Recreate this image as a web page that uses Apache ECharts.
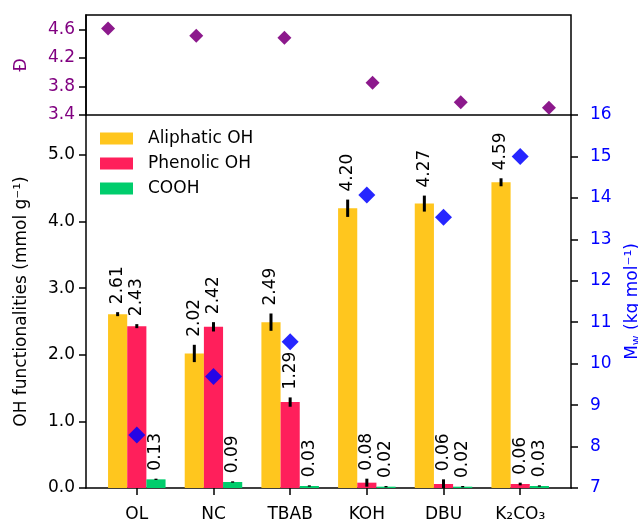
<!DOCTYPE html>
<html>
<head>
<meta charset="utf-8">
<script src="https://cdn.jsdelivr.net/npm/echarts@6/dist/echarts.min.js"></script>
<style>
  html, body { margin: 0; padding: 0; background: #fff; }
  #chart { width: 638px; height: 523px; }
</style>
</head>
<body>
<div id="chart"></div>
<script>
// Catalyst series and their measured values
const categories = ['OL', 'NC', 'TBAB', 'KOH', 'DBU', 'K₂CO₃'];
const aliphaticOH = [2.61, 2.02, 2.49, 4.20, 4.27, 4.59];
const aliphaticErr = [0.03, 0.13, 0.13, 0.13, 0.12, 0.06];
const phenolicOH = [2.43, 2.42, 1.29, 0.08, 0.06, 0.06];
const phenolicErr = [0.03, 0.07, 0.07, 0.06, 0.07, 0.02];
const cooh = [0.13, 0.09, 0.03, 0.02, 0.02, 0.03];
const coohErr = [0.01, 0.01, 0.01, 0.01, 0.01, 0.01];
const mw = [8.28, 9.69, 10.53, 14.07, 13.53, 15.0];          // kg/mol
const dispersity = [4.61, 4.51, 4.48, 3.85, 3.58, 3.50];
const ohTicks = [0, 1, 2, 3, 4, 5];
const dTicks = [3.4, 3.8, 4.2, 4.6];

const FONT = 'DejaVu Sans';
const FS = 17;
const BAR_W = 0.25;
const COLORS = { ali: '#FFC61E', phe: '#FF1F5B', cooh: '#00CD6C' };
const PURPLE = '#800080';
const BLUE = '#0000FF';

function barRenderer(offset) {
  return function (params, api) {
    const x = api.value(0) + offset;
    const v = api.value(1);
    const base = api.coord([x, 0]);
    const top = api.coord([x, v]);
    const w = api.size([BAR_W, 0])[0];
    return {
      type: 'rect',
      shape: { x: top[0] - w / 2, y: top[1], width: w, height: base[1] - top[1] },
      style: api.style()
    };
  };
}

function errRenderer(offset) {
  return function (params, api) {
    const x = api.value(0) + offset;
    const v = api.value(1);
    const e = api.value(2);
    const lo = api.coord([x, Math.max(0, v - e)]);
    const hi = api.coord([x, v + e]);
    return {
      type: 'group',
      children: [
        { type: 'line', shape: { x1: lo[0], y1: lo[1], x2: hi[0], y2: hi[1] },
          style: { stroke: '#000', lineWidth: 3 } },
        { type: 'text', x: hi[0], y: hi[1] - 8, rotation: Math.PI / 2,
          style: { text: v.toFixed(2), x: 0, y: 0, align: 'left', verticalAlign: 'middle',
                   fontSize: FS, fontFamily: FONT, fill: '#000' } }
      ]
    };
  };
}

function rows(vals, errs) {
  return vals.map((v, i) => errs ? [i, v, errs[i]] : [i, v]);
}

function barSeries(name, color, offset, vals) {
  return {
    name, type: 'custom', xAxisIndex: 1, yAxisIndex: 1,
    itemStyle: { color }, renderItem: barRenderer(offset),
    encode: { x: 0, y: 1 }, data: rows(vals), z: 2
  };
}
function errSeries(offset, vals, errs) {
  return {
    type: 'custom', xAxisIndex: 1, yAxisIndex: 1,
    renderItem: errRenderer(offset), encode: { x: 0, y: 1 },
    data: rows(vals, errs), z: 3, silent: true
  };
}

const axisLineStyle = { color: '#000', width: 1.5 };
const tickStyle = { color: '#000', width: 1.5 };

const option = {
  animation: false,
  backgroundColor: '#fff',
  textStyle: { fontFamily: FONT },
  grid: [
    { left: 86, right: 67, top: 15, height: 100, show: true, borderColor: '#000', borderWidth: 1.5,
      backgroundColor: 'transparent', outerBoundsMode: 'none', containLabel: false },
    { left: 86, right: 67, top: 115, height: 373, outerBoundsMode: 'none', containLabel: false }
  ],
  legend: {
    data: ['Aliphatic OH', 'Phenolic OH', 'COOH'],
    orient: 'vertical', left: 100, top: 130, padding: 0,
    icon: 'rect', itemWidth: 33, itemHeight: 12, itemGap: 8,
    textStyle: { fontSize: FS, fontFamily: FONT, color: '#000', padding: [0, 0, 0, 10] }
  },
  xAxis: [
    { gridIndex: 0, type: 'value', min: -0.25, max: 5.25, show: false },
    { gridIndex: 1, type: 'value', min: -0.6625, max: 5.6625,
      axisLine: { onZero: false, lineStyle: axisLineStyle },
      axisTick: { show: true, length: 7, lineStyle: tickStyle, customValues: ohTicks },
      axisLabel: { customValues: ohTicks, margin: 18, fontSize: FS, color: '#000', fontFamily: FONT,
                   formatter: v => categories[Math.round(v)] },
      splitLine: { show: false } }
  ],
  yAxis: [
    { gridIndex: 0, type: 'value', min: 3.4, max: 4.8, position: 'left',
      axisLine: { show: true, onZero: false, lineStyle: axisLineStyle },
      axisTick: { show: true, length: 7, lineStyle: tickStyle, customValues: dTicks },
      axisLabel: { customValues: dTicks, margin: 11, fontSize: FS, color: PURPLE, fontFamily: FONT,
                   formatter: v => v.toFixed(1) },
      splitLine: { show: false },
      name: 'Đ', nameLocation: 'middle', nameRotate: 90, nameGap: 56,
      nameTextStyle: { color: PURPLE, fontSize: FS, fontFamily: FONT } },
    { gridIndex: 1, type: 'value', min: 0, max: 5.6, position: 'left',
      axisLine: { show: true, onZero: false, lineStyle: axisLineStyle },
      axisTick: { show: true, length: 7, lineStyle: tickStyle, customValues: ohTicks },
      axisLabel: { customValues: ohTicks, margin: 11, fontSize: FS, color: '#000', fontFamily: FONT,
                   formatter: v => v.toFixed(1) },
      splitLine: { show: false },
      name: 'OH functionalities (mmol g⁻¹)', nameLocation: 'middle', nameRotate: 90, nameGap: 56,
      nameTextStyle: { color: '#000', fontSize: FS, fontFamily: FONT } },
    { gridIndex: 1, type: 'value', min: 7, max: 16, interval: 1, position: 'right',
      axisLine: { show: true, onZero: false, lineStyle: axisLineStyle },
      axisTick: { show: true, length: 7, lineStyle: tickStyle },
      axisLabel: { margin: 19, fontSize: FS, color: BLUE, fontFamily: FONT },
      splitLine: { show: false },
      name: '{m|M}{w|w}{m| (kg mol⁻¹)}', nameLocation: 'middle', nameRotate: 90, nameGap: 52,
      nameTextStyle: { color: BLUE, fontFamily: FONT,
        rich: { m: { fontSize: FS, color: BLUE, fontFamily: FONT },
                w: { fontSize: 12, color: BLUE, fontFamily: FONT, padding: [8, 0, 0, 0] } } } }
  ],
  series: [
    barSeries('Aliphatic OH', COLORS.ali, -BAR_W, aliphaticOH),
    barSeries('Phenolic OH', COLORS.phe, 0, phenolicOH),
    barSeries('COOH', COLORS.cooh, BAR_W, cooh),
    errSeries(-BAR_W, aliphaticOH, aliphaticErr),
    errSeries(0, phenolicOH, phenolicErr),
    errSeries(BAR_W, cooh, coohErr),
    { type: 'scatter', name: 'Mw', xAxisIndex: 1, yAxisIndex: 2, symbol: 'diamond', symbolSize: 17,
      itemStyle: { color: 'rgba(0,0,255,0.85)', opacity: 1 }, data: rows(mw), z: 4 },
    { type: 'scatter', name: 'Đ', xAxisIndex: 0, yAxisIndex: 0, symbol: 'diamond', symbolSize: 14,
      itemStyle: { color: 'rgba(128,0,128,0.9)', opacity: 1 }, data: rows(dispersity), z: 4 }
  ]
};

const chart = echarts.init(document.getElementById('chart'), null, { renderer: 'canvas' });
chart.setOption(option);
</script>
</body>
</html>
